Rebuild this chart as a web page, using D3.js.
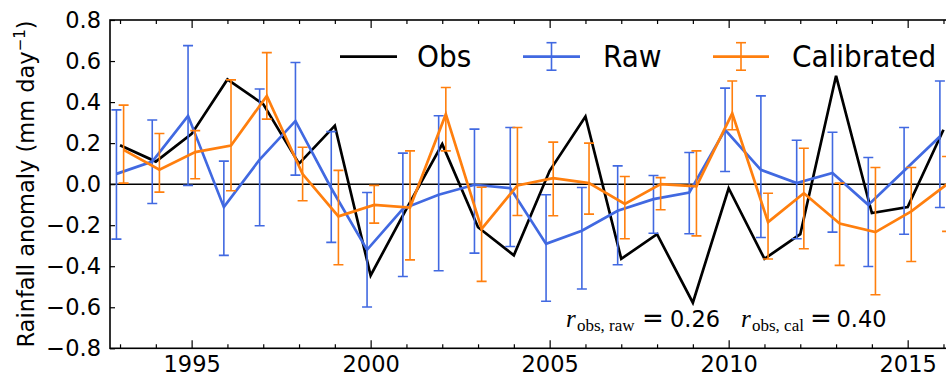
<!DOCTYPE html>
<html><head><meta charset="utf-8">
<script src="https://cdn.jsdelivr.net/npm/d3@7"></script>
<style>body{margin:0;background:#fff}svg{display:block}</style>
</head><body><svg id="c" width="946" height="377"></svg>
<script>
const years = [1993,1994,1995,1996,1997,1998,1999,2000,2001,2002,2003,2004,2005,2006,2007,2008,2009,2010,2011,2012,2013,2014,2015,2016];
const obs = [0.19,0.11,0.245,0.51,0.39,0.10,0.285,-0.445,-0.12,0.195,-0.21,-0.347,0.065,0.33,-0.364,-0.244,-0.578,-0.02,-0.364,-0.244,0.528,-0.141,-0.112,0.265];
const rawMean = [0.05,0.11,0.333,-0.112,0.12,0.308,-0.02,-0.32,-0.12,-0.052,-0.003,-0.019,-0.291,-0.227,-0.13,-0.073,-0.041,0.265,0.07,0.005,0.054,-0.101,0.065,0.232];
const rawHi = [0.362,0.313,0.675,0.112,0.464,0.593,0.256,-0.041,0.151,0.333,0.268,0.276,-0.052,-0.016,0.089,0.042,0.154,0.468,0.430,0.214,0.253,0.130,0.276,0.503];
const rawLo = [-0.268,-0.094,-0.006,-0.347,-0.203,0.044,-0.284,-0.599,-0.450,-0.422,-0.336,-0.304,-0.571,-0.511,-0.393,-0.239,-0.242,0.062,-0.260,-0.266,-0.234,-0.401,-0.244,-0.114];
const calMean = [0.167,0.07,0.156,0.188,0.43,0.049,-0.157,-0.101,-0.114,0.341,-0.218,-0.006,0.029,0.005,-0.096,0.0,-0.011,0.345,-0.185,-0.044,-0.192,-0.234,-0.133,0.0];
const calHi = [0.385,0.247,0.261,0.508,0.641,0.180,0.067,-0.006,0.162,0.471,-0.015,0.276,0.205,0.200,0.037,0.032,0.162,0.503,-0.044,0.175,0.005,0.081,0.081,0.135];
const calLo = [0.005,-0.039,0.026,-0.032,0.317,-0.081,-0.393,-0.190,-0.369,0.162,-0.474,-0.153,-0.154,-0.146,-0.266,-0.125,-0.252,0.265,-0.365,-0.315,-0.396,-0.539,-0.377,-0.23];
const xMajor = [1995,2000,2005,2010,2015];
const yTicks = [-0.8,-0.6,-0.4,-0.2,0.0,0.2,0.4,0.6,0.8];
const seriesNames = ["Obs","Raw","Calibrated"];
const annot = [{label:"obs, raw", value:"0.26"},{label:"obs, cal", value:"0.40"}];

const BLACK="#000", BLUE="#4169e1", ORANGE="#ff7f0e";
const svg = d3.select("#c");
const L=110, T=20, B=348.3, R=953.5;
const x = d3.scaleLinear().domain([1992.72, 2016.28]).range([L, R]);
const y = d3.scaleLinear().domain([-0.8, 0.8]).range([B, T]);
const off = 0.1;

svg.append("defs").append("clipPath").attr("id","clip").append("rect")
  .attr("x",L).attr("y",T).attr("width",R-L).attr("height",B-T);

const plot = svg.append("g").attr("clip-path","url(#clip)");
plot.append("line").attr("x1",L).attr("x2",R).attr("y1",y(0)).attr("y2",y(0))
  .attr("stroke","#000").attr("stroke-width",1.5);

const line = d3.line().x(d=>x(d[0])).y(d=>y(d[1]));
plot.append("path").datum(years.map((yr,i)=>[yr,obs[i]]))
  .attr("d",line).attr("fill","none").attr("stroke",BLACK).attr("stroke-width",2.7);

function errSeries(mean, lo, hi, dx, color){
  const g = plot.append("g");
  const pts = years.map((yr,i)=>({x:yr+dx, m:mean[i], lo:lo[i], hi:hi[i]}));
  g.append("path").datum(pts.map(p=>[p.x,p.m])).attr("d",line)
    .attr("fill","none").attr("stroke",color).attr("stroke-width",2.7);
  const eb = g.selectAll("g.eb").data(pts).join("g").attr("class","eb")
    .attr("stroke",color).attr("stroke-width",1.6);
  eb.append("line").attr("x1",p=>x(p.x)).attr("x2",p=>x(p.x)).attr("y1",p=>y(p.lo)).attr("y2",p=>y(p.hi));
  eb.append("line").attr("x1",p=>x(p.x)-5).attr("x2",p=>x(p.x)+5).attr("y1",p=>y(p.lo)).attr("y2",p=>y(p.lo));
  eb.append("line").attr("x1",p=>x(p.x)-5).attr("x2",p=>x(p.x)+5).attr("y1",p=>y(p.hi)).attr("y2",p=>y(p.hi));
}
errSeries(rawMean, rawLo, rawHi, -off, BLUE);
errSeries(calMean, calLo, calHi, off, ORANGE);

svg.append("rect").attr("x",L).attr("y",T).attr("width",R-L).attr("height",B-T)
  .attr("fill","none").attr("stroke","#000").attr("stroke-width",1.6);

const font = "DejaVu Sans, sans-serif";
function styleAxis(g){ g.select(".domain").remove(); g.selectAll("line").attr("stroke","#000").attr("stroke-width",1.2); }
svg.append("g").attr("transform",`translate(0,${B})`)
  .call(d3.axisBottom(x).tickValues(xMajor).tickFormat(d3.format("d")).tickSizeInner(-8).tickSizeOuter(0).tickPadding(8))
  .call(styleAxis)
  .call(g=>g.selectAll("text").attr("font-family",font).attr("font-size",22.5).attr("fill","#000"));
svg.append("g").attr("transform",`translate(0,${B})`)
  .call(d3.axisBottom(x).tickValues(years.filter(v=>!xMajor.includes(v))).tickFormat("").tickSizeInner(-4).tickSizeOuter(0))
  .call(styleAxis);
svg.append("g").attr("transform",`translate(0,${T})`)
  .call(d3.axisTop(x).tickValues(xMajor).tickFormat("").tickSizeInner(-8).tickSizeOuter(0)).call(styleAxis);
svg.append("g").attr("transform",`translate(0,${T})`)
  .call(d3.axisTop(x).tickValues(years.filter(v=>!xMajor.includes(v))).tickFormat("").tickSizeInner(-4).tickSizeOuter(0)).call(styleAxis);
svg.append("g").attr("transform",`translate(${L},0)`)
  .call(d3.axisLeft(y).tickValues(yTicks).tickFormat(d3.format(".1f")).tickSizeInner(-5).tickSizeOuter(0).tickPadding(9))
  .call(styleAxis)
  .call(g=>g.selectAll("text").attr("font-family",font).attr("font-size",22.5).attr("fill","#000"));

const yl = svg.append("text").attr("transform","translate(34,184) rotate(-90)")
  .attr("text-anchor","middle").attr("font-family",font).attr("font-size",22.5).attr("fill","#000");
yl.append("tspan").text("Rainfall anomaly (mm day");
yl.append("tspan").attr("font-size",15).attr("dy",-9).text("\u22121");
yl.append("tspan").attr("dy",9).text(")");

const legY = 56.7;
const leg = svg.append("g");
leg.append("line").attr("x1",340).attr("x2",397).attr("y1",legY).attr("y2",legY).attr("stroke",BLACK).attr("stroke-width",2.7);
function legErr(x1,x2,color){
  const cx=(x1+x2)/2;
  leg.append("line").attr("x1",x1).attr("x2",x2).attr("y1",legY).attr("y2",legY).attr("stroke",color).attr("stroke-width",2.7);
  leg.append("line").attr("x1",cx).attr("x2",cx).attr("y1",legY-14).attr("y2",legY+13.5).attr("stroke",color).attr("stroke-width",1.6);
  [legY-14,legY+13.5].forEach(yy=>leg.append("line").attr("x1",cx-5).attr("x2",cx+5).attr("y1",yy).attr("y2",yy).attr("stroke",color).attr("stroke-width",1.6));
}
legErr(523,580,BLUE);
legErr(713,769,ORANGE);
[[417,seriesNames[0]],[603,seriesNames[1]],[792,seriesNames[2]]].forEach(([lx,t])=>{
  leg.append("text").attr("transform",`translate(${lx},${legY+10}) scale(0.9,1)`)
    .attr("font-family",font).attr("font-size",31).attr("fill","#000").text(t);
});

const ann = svg.append("g");
const base = 327;
[[566,annot[0],653,670],[741,annot[1],821,836.5]].forEach(([ax,a,ex,nx])=>{
  ann.append("text").attr("x",ax).attr("y",base).attr("font-family","Liberation Serif, serif").attr("font-style","italic")
    .attr("font-size",25).text("r");
  ann.append("text").attr("x",ax+11).attr("y",base+4).attr("font-family","Liberation Serif, serif")
    .attr("font-size",17).text(a.label);
  ann.append("text").attr("x",ex).attr("y",base).attr("text-anchor","middle").attr("font-family",font)
    .attr("font-size",26).text("=");
  ann.append("text").attr("x",nx).attr("y",base).attr("font-family",font)
    .attr("font-size",23).attr("textLength",50).attr("lengthAdjust","spacingAndGlyphs").text(a.value);
});
</script></body></html>
